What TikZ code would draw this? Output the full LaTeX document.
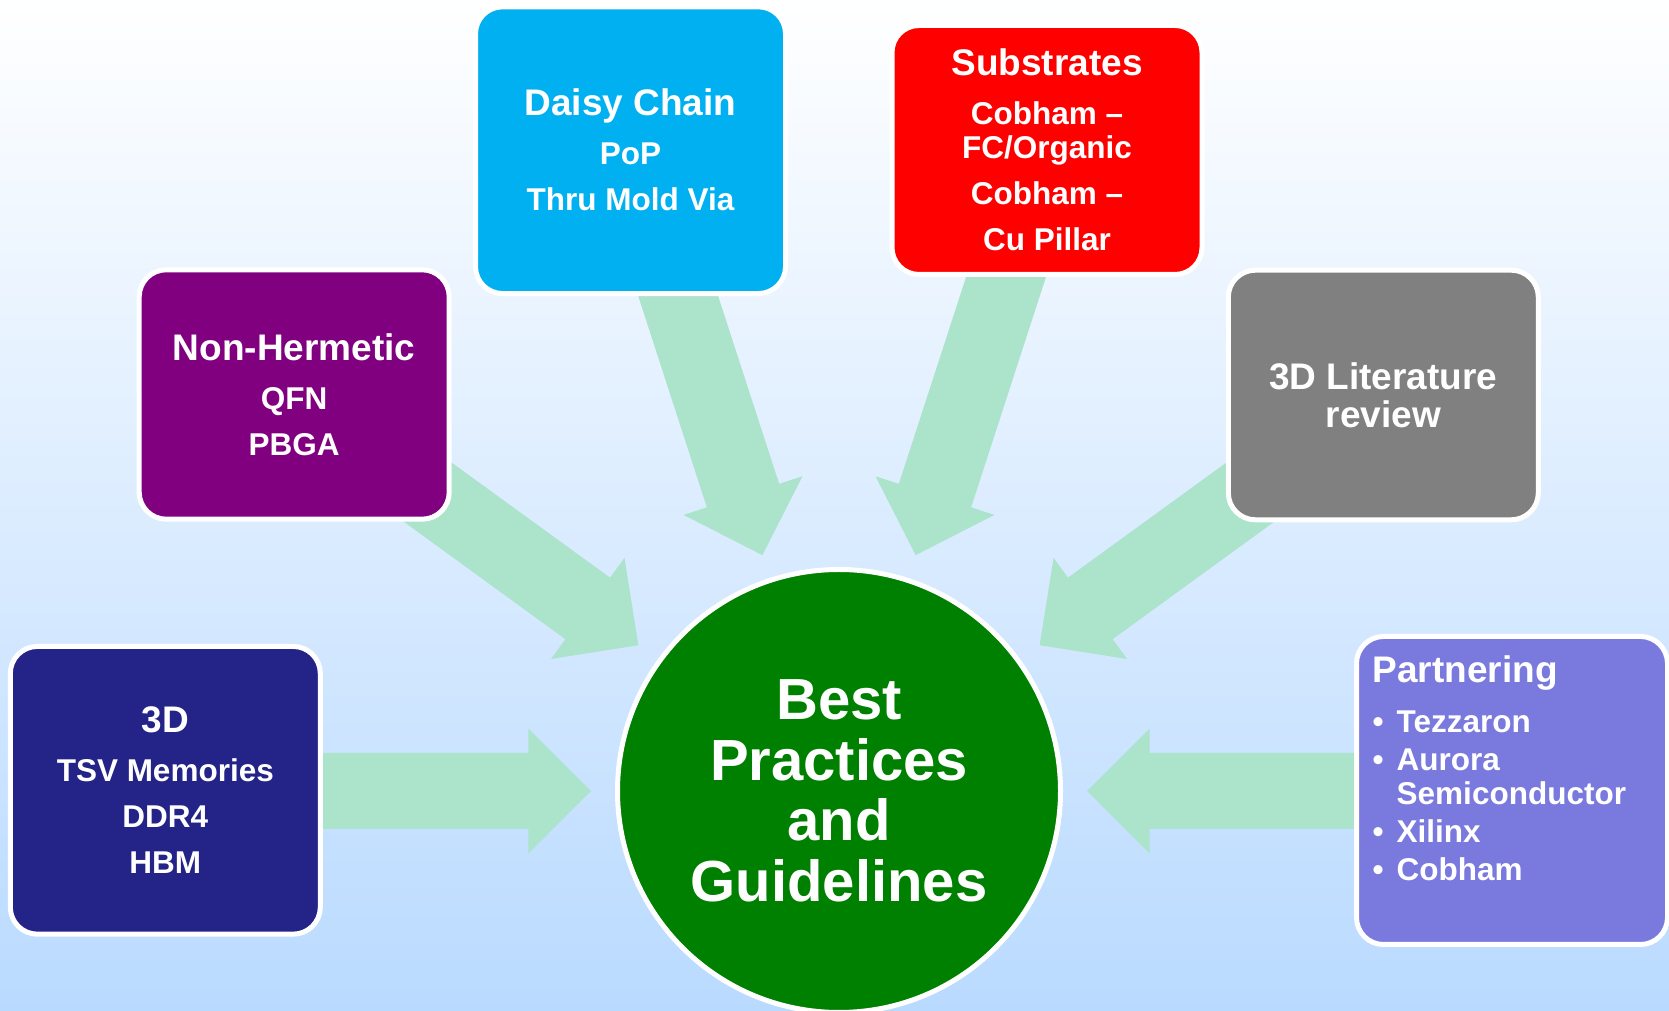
\documentclass[tikz,border=0pt]{standalone}
\usepackage{fontspec}
\setmainfont{Liberation Sans}

\definecolor{bgblue}{RGB}{185,218,255}
\definecolor{flowgreen}{RGB}{172,227,203}
\definecolor{navyblk}{RGB}{35,35,136}
\definecolor{plumblk}{RGB}{128,0,128}
\definecolor{skyblk}{RGB}{0,176,240}
\definecolor{redblk}{RGB}{255,0,0}
\definecolor{grayblk}{RGB}{128,128,128}
\definecolor{lilacblk}{RGB}{122,122,222}
\definecolor{hubgreen}{RGB}{0,128,0}

\newcommand{\boxtitle}[1]{{\fontsize{37}{40}\selectfont #1}}
\newcommand{\pitem}{\makebox[24pt][l]{•}}

\tikzset{
  box/.style={draw=white, line width=5pt, rounded corners=27pt, text=white,
    align=center, inner sep=0pt, minimum width=310pt,
    font=\bfseries\fontsize{31.5}{34}\selectfont},
  hub/.style={circle, draw=white, line width=5pt, fill=hubgreen, text=white,
    align=center, inner sep=0pt, minimum size=443pt,
    font=\bfseries\fontsize{58}{60.5}\selectfont},
  flow/.style={fill=flowgreen}
}

\begin{document}
\begin{tikzpicture}[x=1pt,y=1pt]
  \clip (0,0) rectangle (1669,1011);
  \shade[top color=white,bottom color=bgblue] (0,0) rectangle (1669,1011);
  \coordinate (hubc) at (839,220);

  %%%%%%%%%%%%%The arrows%%%%%%%%%%%%%%%%%%%%%%
  \foreach \a in {0,36,...,180}{
    \fill[flow,shift={(hubc)},rotate=\a] (248,0) -- (310.6,62.5) -- (310.6,38)
      -- (560,38) -- (560,-38) -- (310.6,-38) -- (310.6,-62.5) -- cycle;
  }

  %%%%%%%%%%%%%The centre%%%%%%%%%%%%%%%%%%%%%%
  \node[hub] (hub) at (hubc) {Best\\Practices\\and\\Guidelines};

  %%%%%%%%%%%%%The boxes%%%%%%%%%%%%%%%%%%%%%%
  \node[box,fill=navyblk,minimum height=287.7pt] (threed) at (165.3,220.7)
    {\boxtitle{3D}\\[15pt] TSV Memories\\[12pt] DDR4\\[12pt] HBM};
  \node[box,fill=plumblk,minimum height=249.4pt] (nonherm) at (294.2,616.5)
    {\boxtitle{Non-Hermetic}\\[15pt] QFN\\[12pt] PBGA};
  \node[box,fill=skyblk,minimum height=286.7pt] (daisy) at (630.5,860.8)
    {\boxtitle{Daisy Chain}\\[15pt] PoP\\[12pt] Thru Mold Via};
  \node[box,fill=redblk,minimum height=249pt] (substr) at (1047,861)
    {\boxtitle{Substrates}\\[15pt] Cobham –\\ FC/Organic\\[12pt] Cobham –\\[12pt] Cu Pillar};
  \node[box,fill=grayblk,minimum height=249.6pt,
    font=\bfseries\fontsize{37}{38.3}\selectfont] (litrev) at (1383.3,616)
    {3D Literature\\review};
  \node[box,fill=lilacblk,minimum width=311pt,minimum height=308pt] (partner) at (1512,220.5) {};
  \node[anchor=north west,inner sep=0pt,text=white,align=left,
    font=\bfseries\fontsize{31.5}{34}\selectfont] (partnertext) at (1372.5,355.8)
    {\boxtitle{Partnering}\\[16pt]
     \pitem Tezzaron\\[4pt]
     \pitem Aurora\\
     \hspace*{24pt}Semiconductor\\[4pt]
     \pitem Xilinx\\[4pt]
     \pitem Cobham};
\end{tikzpicture}
\end{document}
